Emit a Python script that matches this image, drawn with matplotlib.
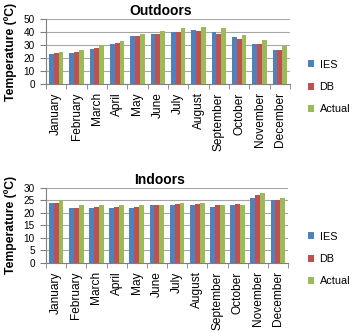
import matplotlib
matplotlib.use("Agg")
import matplotlib.pyplot as plt
import numpy as np

plt.rcParams['font.family'] = ['Liberation Sans', 'DejaVu Sans']

months = ["January", "February", "March", "April", "May", "June", "July",
          "August", "September", "October", "November", "December"]
series = ["IES", "DB", "Actual"]
colors = ["#4F81BD", "#C0504D", "#9BBB59"]

out_ies = [23.5, 24, 27, 31, 37, 38.5, 40, 42, 40, 36, 31, 26]
out_db = [24, 24.5, 28, 32, 37, 39, 40, 41, 39, 35, 31, 26]
out_act = [25, 26, 30, 33, 39, 41, 43, 44, 43, 38, 34, 29]

in_ies = [24, 22, 22, 22, 22, 23, 23, 23, 22.5, 23, 26, 25]
in_db = [24, 22, 22.5, 22.5, 22.5, 23, 23.5, 23.5, 23, 23.5, 27, 25]
in_act = [25, 23, 23, 23, 23, 23, 24, 24, 23, 23, 28, 26]

W, H = 356, 333
fig = plt.figure(figsize=(W / 100, H / 100), dpi=100)


def panel(rect, title, data, ymax, step, legend_center_px):
    ax = fig.add_axes(rect)
    x = np.arange(len(months))
    bw = 0.24
    for i, (vals, c, name) in enumerate(zip(data, colors, series)):
        ax.bar(x + (i - 1) * bw, vals, width=bw, color=c, label=name, zorder=3)
    ax.set_xlim(-0.5, len(months) - 0.5)
    ax.set_ylim(0, ymax)
    ax.set_yticks(np.arange(0, ymax + 0.1, step))
    ax.yaxis.grid(True, color="#A6A6A6", linewidth=0.8, zorder=0)
    ax.set_axisbelow(True)
    for s in ["top", "right"]:
        ax.spines[s].set_visible(False)
    ax.spines["left"].set_color("#808080")
    ax.spines["bottom"].set_color("#808080")
    ax.set_xticks(x)
    ax.set_xticklabels(months, rotation=90, fontsize=8.6)
    ax.tick_params(axis="x", length=0, pad=6)
    ax.set_xticks(np.arange(-0.5, len(months), 1), minor=True)
    ax.tick_params(axis="x", which="minor", length=3.5, color="#808080", direction="out")
    ax.tick_params(axis="y", labelsize=7.2, length=4, color="#808080", pad=4)
    ax.set_title(title, fontsize=10, fontweight="bold", pad=3, x=0.47)
    ax.set_ylabel("Temperature (ºC)", fontsize=8.8, fontweight="bold")
    ax.yaxis.set_label_coords(-17 / (rect[2] * W) - 0.0, 0.5)
    ax.yaxis.set_label_coords((17 - 46) / (rect[2] * W), 0.5)
    fig.legend(*ax.get_legend_handles_labels(), loc="center left",
               bbox_to_anchor=(300 / W, 1 - legend_center_px / H),
               frameon=False, fontsize=7.8, handlelength=0.6, handleheight=0.6,
               handletextpad=0.5, labelspacing=1.15, borderpad=0.2)
    return ax


panel([46 / W, 1 - 84 / H, 244 / W, 64.7 / H], "Outdoors",
      [out_ies, out_db, out_act], 50, 10, 87)
panel([46 / W, 1 - 263 / H, 242 / W, 75.3 / H], "Indoors",
      [in_ies, in_db, in_act], 30, 5, 259)

fig.savefig("out.png", dpi=100)
